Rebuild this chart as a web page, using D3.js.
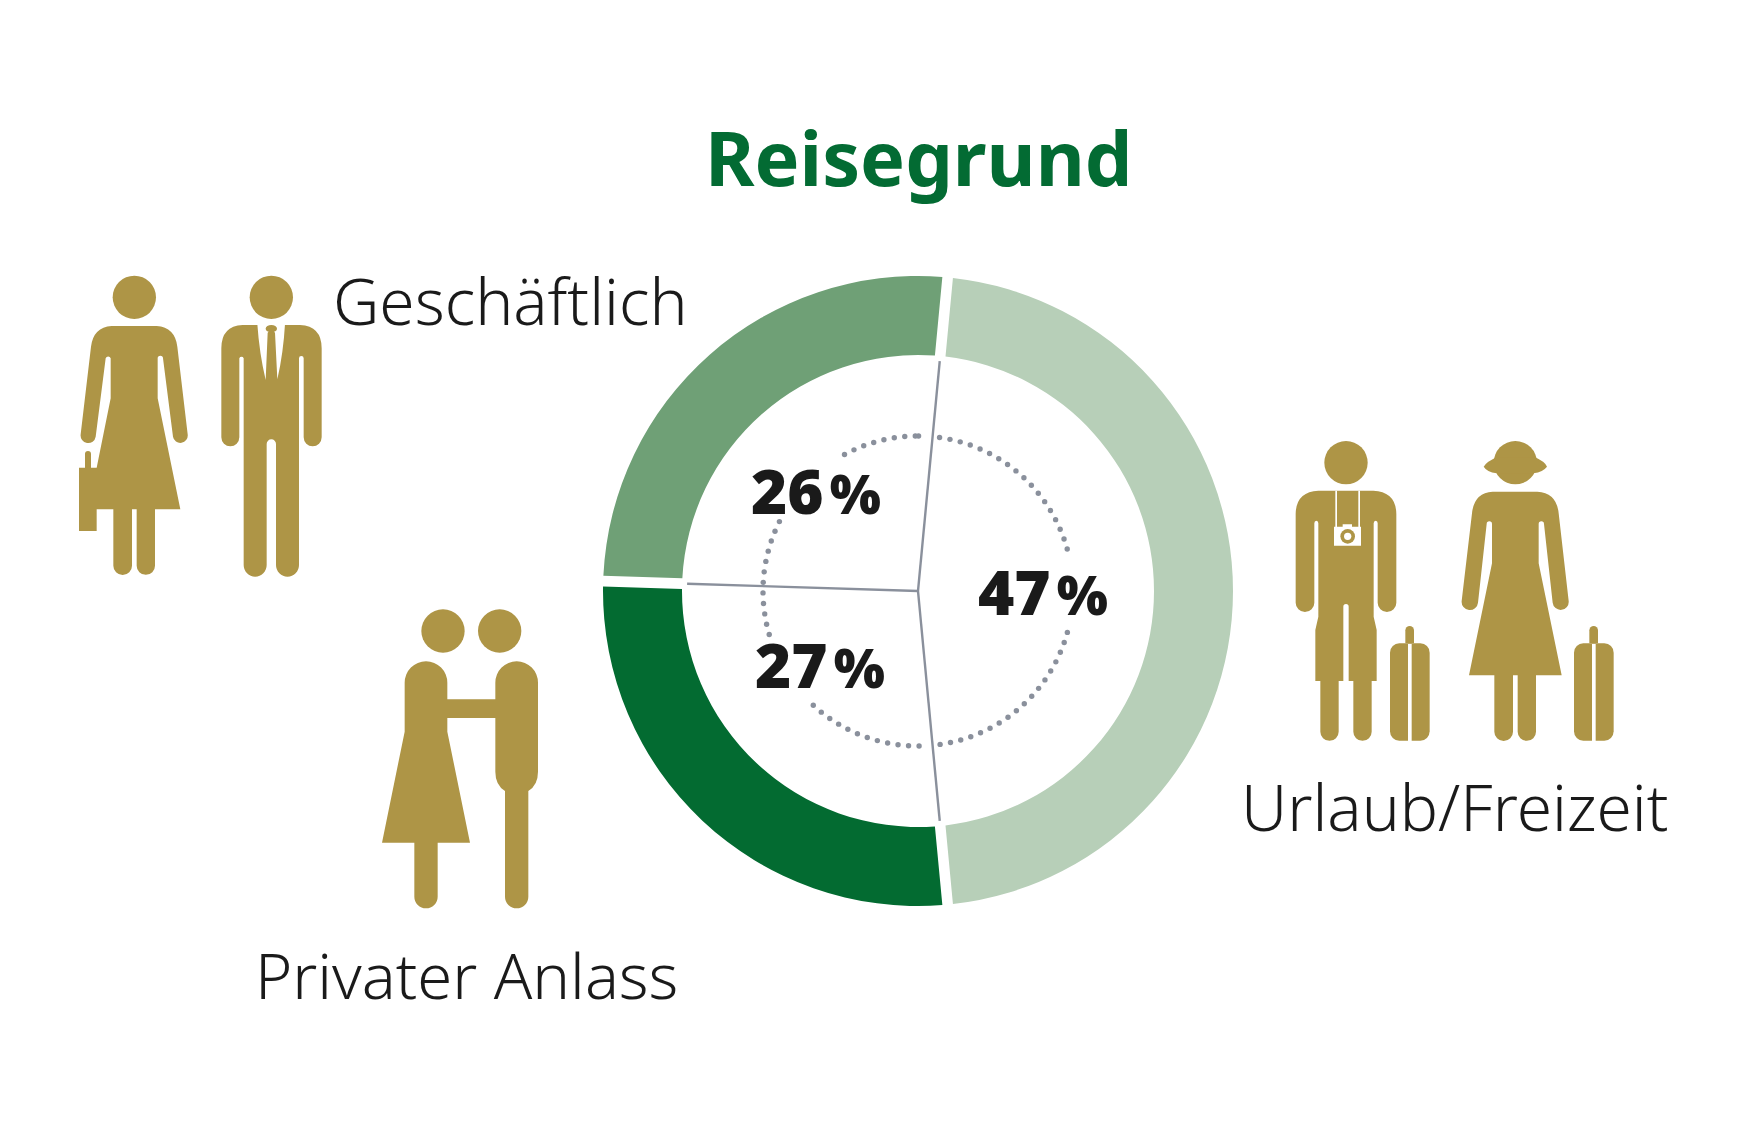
<!DOCTYPE html>
<html>
<head>
<meta charset="utf-8">
<script src="https://cdnjs.cloudflare.com/ajax/libs/d3/7.8.5/d3.min.js"></script>
<style>
  html, body { margin: 0; padding: 0; background: #fff; }
</style>
</head>
<body>
<div id="container"></div>
<script>
const categories = ['Urlaub/Freizeit', 'Privater Anlass', 'Geschäftlich'];
const shares = [47, 27, 26];
const shareLabels = ['47 %', '27 %', '26 %'];
const ringColors = ['#b7cfb8', '#036b31', '#6fa076'];

const gold = '#ae9546';
const lineGrey = '#8a909c';
const ink = '#1a1a1a';

let viz = d3.select('#container')
    .append('svg')
    .attr('id', 'viz')
    .attr('width', 1758)
    .attr('height', 1128)
    .style('display', 'block')
    .style('background', '#fff');

const center = [918, 591];
const startDeg = 5.4;
const toRad = Math.PI / 180;

viz.append('text')
    .text('Reisegrund')
    .attr('x', 705)
    .attr('y', 185.5)
    .attr('font-family', 'Noto Sans')
    .attr('font-weight', 700)
    .attr('font-size', 75.5)
    .attr('fill', '#036b33');

let pie = d3.pie().sort(null)
    .startAngle(startDeg * toRad)
    .endAngle((startDeg + 360) * toRad);

// gap goes on the arc, so the pie keeps the exact shares
let arc = d3.arc().innerRadius(236).outerRadius(315).padAngle(0.027);

let ring = viz.append('g')
    .attr('id', 'ring')
    .attr('transform', `translate(${center[0]},${center[1]})`);

let slices = pie(shares);

ring.selectAll('.slice').data(slices)
    .enter()
    .append('path')
    .attr('class', 'slice')
    .attr('d', arc)
    .attr('fill', (d, i) => ringColors[i]);

// dotted circle, with holes where the labels and dividers sit
const dotGaps = [[2, 7], [78, 105], [172, 178], [223, 253], [297, 331]];
let dotAngles = d3.range(0.2, 360, 3.9)
    .filter(a => !dotGaps.some(g => a > g[0] && a < g[1]));

ring.selectAll('.dot').data(dotAngles)
    .enter()
    .append('circle')
    .attr('class', 'dot')
    .attr('cx', a => 155 * Math.sin(a * toRad))
    .attr('cy', a => -155 * Math.cos(a * toRad))
    .attr('r', 2.7)
    .attr('fill', lineGrey);

// dividers run from the middle out to the ring gaps
ring.selectAll('.divider').data(slices)
    .enter()
    .append('line')
    .attr('class', 'divider')
    .attr('x2', d => 231 * Math.sin(d.startAngle))
    .attr('y2', d => -231 * Math.cos(d.startAngle))
    .attr('stroke', lineGrey)
    .attr('stroke-width', 2.4);

const labelPos = [[978, 615], [755, 688], [751, 514]];

let shareText = viz.selectAll('.share').data(shareLabels)
    .enter()
    .append('text')
    .attr('class', 'share')
    .attr('x', (d, i) => labelPos[i][0])
    .attr('y', (d, i) => labelPos[i][1])
    .attr('font-family', 'Noto Sans')
    .attr('font-weight', 900)
    .attr('font-size', 62)
    .attr('word-spacing', -10)
    .attr('fill', ink)
    .text(d => d.split(' ')[0] + ' ');

// the percent sign is narrower in the original
shareText.append('tspan')
    .text(d => d.split(' ')[1])
    .attr('font-size', 54);

const namePos = [[1241, 831], [255, 999], [333, 325]];
const nameSizes = [64, 63.4, 64];

viz.selectAll('.name').data(categories)
    .enter()
    .append('text')
    .attr('class', 'name')
    .text(d => d)
    .attr('x', (d, i) => namePos[i][0])
    .attr('y', (d, i) => namePos[i][1])
    .attr('font-family', 'Noto Sans')
    .attr('font-weight', 300)
    .attr('font-size', (d, i) => nameSizes[i])
    .attr('fill', ink);

// pictograms, drawn at 3x and scaled down
function icon(x, y) {
    return viz.append('g')
        .attr('transform', `translate(${x},${y}) scale(${1 / 3})`)
        .attr('fill', gold);
}

function addHead(g, x, y) {
    g.append('circle').attr('cx', x).attr('cy', y).attr('r', 65);
}

function addCase(g, x) {
    g.append('path').attr('d', `M${x + 46} 670 V631 A13 13 0 0 1 ${x + 72} 631 V670 Z`);
    g.append('rect').attr('x', x).attr('y', 670).attr('width', 119).attr('height', 292).attr('rx', 28);
    g.append('rect').attr('x', x + 54).attr('y', 672).attr('width', 11).attr('height', 292).attr('fill', '#fff');
}

let business = icon(60, 250);
addHead(business, 223, 142);
addHead(business, 634, 142);
business.append('path').attr('d', 'M155 228 H290 Q345 232 352 290 L383 553 A22 22 0 0 1 339 560 L309 325 A8 8 0 0 0 293 325 V445 L361 778 H285 V947 A27.5 27.5 0 0 1 230 947 V778 H216 V947 A28 28 0 0 1 160 947 V778 H110 V843 H57 V653 H75 V612 A9 9 0 0 1 93 612 V653 H110 L152 445 V325 A8 8 0 0 0 137 325 L107 560 A22 22 0 0 1 62 553 L93 290 Q100 232 155 228 Z');
business.append('path').attr('d', 'M548 225 H720 Q785 228 785 295 V562 A27 27 0 0 1 731 562 V325 A7 7 0 0 0 717 325 V945 A34.5 35 0 0 1 648 945 V582 A14 14 0 0 0 620 582 V945 A34.5 35 0 0 1 551 945 V325 A7 7 0 0 0 538 325 V562 A27 27 0 0 1 484 562 V295 Q484 228 548 225 Z');
// white lapels either side of the tie
business.append('path').attr('fill', '#fff').attr('d', 'M592 222 H634 V236 L623 248 L617 390 Q598 310 592 222 Z');
business.append('path').attr('fill', '#fff').attr('d', 'M634 222 H675 Q670 310 652 388 L645 248 L634 236 Z');
business.append('ellipse').attr('cx', 634).attr('cy', 236).attr('rx', 17).attr('ry', 11);

let holiday = icon(1270, 420);
addHead(holiday, 228, 128);
addHead(holiday, 736, 128);
holiday.append('path').attr('d', 'M641 140 Q650 125 680 112 H795 Q825 125 831 140 Q820 155 790 160 H680 Q650 155 641 140 Z');
holiday.append('path').attr('d', 'M145 212 H310 Q378 215 379 282 V548 A28 28 0 0 1 323 548 V310 A6 8 0 0 0 311 310 V590 L320 630 V783 H305 V935 A27.5 27.5 0 0 1 250 935 V783 H236 V560 A8 8 0 0 0 220 560 V783 H206 V935 A27.5 27.5 0 0 1 151 935 V783 H136 V630 L145 590 V310 A6 8 0 0 0 133 310 V548 A28 28 0 0 1 77 548 V282 Q78 215 145 212 Z');
holiday.append('path').attr('d', 'M668 215 H802 Q860 218 866 280 L896 543 A24 24 0 0 1 848 548 L822 312 A8 8 0 0 0 806 312 V430 L875 766 H798 V935 A27.5 27.5 0 0 1 743 935 V766 H729 V935 A27.5 27.5 0 0 1 673 935 V766 H597 L666 430 V312 A8 8 0 0 0 650 312 L624 548 A24 24 0 0 1 575 543 L606 280 Q612 218 668 215 Z');
holiday.append('path').attr('fill', '#fff').attr('d', 'M196 212 H201 V320 H218 V313 H246 V320 H265 V212 H270 V320 H273 V377 H192 V320 H196 Z');
holiday.append('circle').attr('cx', 233).attr('cy', 349).attr('r', 22);
holiday.append('circle').attr('cx', 233).attr('cy', 349).attr('r', 11).attr('fill', '#fff');
addCase(holiday, 360);
addCase(holiday, 912);

let couple = icon(360, 590);
addHead(couple, 249, 123);
addHead(couple, 419, 123);
couple.append('path').attr('d', 'M134 278 A64 64 0 0 1 262 278 V328 H406 V278 A64 64 0 0 1 534 278 V545 Q534 585 505 603 V920 A35 35 0 0 1 435 920 V603 Q406 585 406 545 V384 H262 V425 L330 758 H233 V920 A35 35 0 0 1 163 920 V758 H66 L134 425 Z');
</script>
</body>
</html>
